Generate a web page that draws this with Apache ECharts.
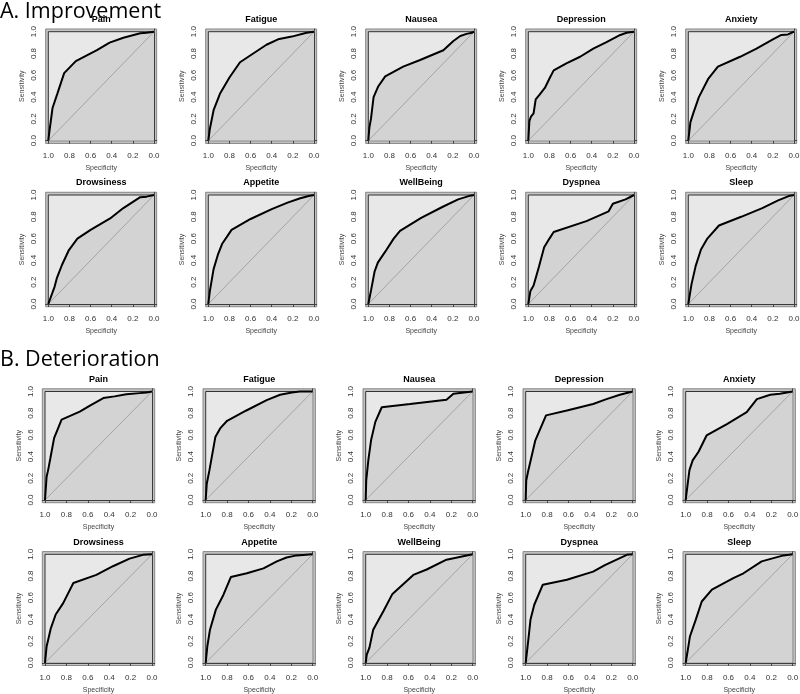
<!DOCTYPE html>
<html>
<head>
<meta charset="utf-8">
<script src="https://cdn.jsdelivr.net/npm/echarts@6/dist/echarts.min.js"></script>
<style>
  html, body { margin: 0; padding: 0; background: #fff; }
  #main { width: 800px; height: 694px; }
</style>
</head>
<body>
<div id="main"></div>
<script>
// symptom names, same order in both sections
var symptoms = ['Pain', 'Fatigue', 'Nausea', 'Depression', 'Anxiety',
  'Drowsiness', 'Appetite', 'WellBeing', 'Dyspnea', 'Sleep']
var sectionTitles = ['A. Improvement', 'B. Deterioration']
var tickValues = [0, 0.2, 0.4, 0.6, 0.8, 1]
var unitSquare = [1, 1, 0, 0]
var chanceLine = [[1, 0], [0, 1]]

// ROC curves: [specificity, sensitivity]
// A. Improvement
var impPain = [[1, 0], [0.99, 0.08], [0.96, 0.30], [0.915, 0.43], [0.85, 0.62], [0.74, 0.73], [0.54, 0.83], [0.42, 0.90], [0.29, 0.945], [0.13, 0.985], [0.07, 0.99], [0, 1]]
var impFatigue = [[1, 0], [0.985, 0.11], [0.95, 0.28], [0.89, 0.43], [0.80, 0.58], [0.70, 0.72], [0.575, 0.80], [0.45, 0.88], [0.34, 0.93], [0.21, 0.955], [0.07, 0.99], [0, 1]]
var impNausea = [[1, 0], [0.99, 0.12], [0.975, 0.20], [0.95, 0.40], [0.905, 0.50], [0.84, 0.59], [0.67, 0.68], [0.51, 0.74], [0.29, 0.83], [0.195, 0.915], [0.13, 0.96], [0.07, 0.98], [0.02, 0.99], [0, 1]]
var impDepression = [[1, 0], [0.99, 0.18], [0.975, 0.22], [0.95, 0.25], [0.93, 0.38], [0.895, 0.42], [0.84, 0.49], [0.795, 0.58], [0.76, 0.645], [0.64, 0.71], [0.51, 0.77], [0.385, 0.845], [0.26, 0.905], [0.13, 0.97], [0.07, 0.99], [0, 1]]
var impAnxiety = [[1, 0], [0.98, 0.17], [0.95, 0.26], [0.90, 0.40], [0.81, 0.57], [0.72, 0.68], [0.51, 0.77], [0.355, 0.845], [0.20, 0.93], [0.12, 0.97], [0.057, 0.975], [0, 1]]
var impDrowsiness = [[1, 0], [0.94, 0.16], [0.92, 0.235], [0.87, 0.36], [0.805, 0.495], [0.725, 0.60], [0.60, 0.68], [0.415, 0.785], [0.29, 0.88], [0.13, 0.98], [0.07, 0.985], [0, 1]]
var impAppetite = [[1, 0], [0.985, 0.12], [0.95, 0.32], [0.91, 0.45], [0.87, 0.55], [0.78, 0.68], [0.6, 0.78], [0.4, 0.87], [0.25, 0.93], [0.13, 0.97], [0.05, 0.99], [0, 1]]
var impWellBeing = [[1, 0], [0.975, 0.12], [0.94, 0.30], [0.91, 0.38], [0.84, 0.48], [0.76, 0.60], [0.70, 0.67], [0.5, 0.79], [0.3, 0.89], [0.15, 0.96], [0.05, 0.99], [0, 1]]
var impDyspnea = [[1, 0], [0.98, 0.12], [0.95, 0.17], [0.9, 0.34], [0.85, 0.52], [0.8, 0.6], [0.76, 0.66], [0.45, 0.76], [0.24, 0.85], [0.2, 0.92], [0.08, 0.96], [0, 1]]
var impSleep = [[1, 0], [0.97, 0.18], [0.93, 0.35], [0.88, 0.5], [0.82, 0.6], [0.71, 0.72], [0.5, 0.8], [0.3, 0.88], [0.15, 0.95], [0.05, 0.99], [0, 1]]

// B. Deterioration
var detPain = [[1, 0], [0.985, 0.215], [0.97, 0.28], [0.95, 0.385], [0.915, 0.57], [0.845, 0.74], [0.675, 0.815], [0.58, 0.87], [0.455, 0.94], [0.35, 0.955], [0.24, 0.975], [0.115, 0.985], [0.05, 0.99], [0, 1]]
var detFatigue = [[1, 0], [0.99, 0.15], [0.965, 0.275], [0.91, 0.58], [0.865, 0.66], [0.80, 0.73], [0.62, 0.825], [0.43, 0.92], [0.305, 0.97], [0.195, 0.99], [0.12, 1], [0, 1]]
var detNausea = [[1, 0], [0.995, 0.18], [0.975, 0.37], [0.95, 0.55], [0.91, 0.72], [0.85, 0.855], [0.585, 0.885], [0.245, 0.925], [0.18, 0.98], [0.165, 0.995], [0, 1]]
var detDepression = [[1, 0], [0.995, 0.18], [0.975, 0.275], [0.91, 0.55], [0.81, 0.78], [0.615, 0.825], [0.37, 0.885], [0.245, 0.93], [0.12, 0.97], [0, 1]]
var detAnxiety = [[1, 0], [0.985, 0.12], [0.965, 0.275], [0.935, 0.365], [0.88, 0.445], [0.805, 0.595], [0.615, 0.70], [0.43, 0.81], [0.335, 0.93], [0.21, 0.97], [0.12, 0.98], [0, 1]]
var detDrowsiness = [[1, 0], [0.985, 0.15], [0.945, 0.32], [0.90, 0.445], [0.83, 0.55], [0.735, 0.735], [0.52, 0.81], [0.365, 0.89], [0.21, 0.96], [0.085, 0.995], [0, 1]]
var detAppetite = [[1, 0], [0.985, 0.15], [0.96, 0.305], [0.905, 0.49], [0.835, 0.625], [0.765, 0.79], [0.615, 0.825], [0.46, 0.87], [0.335, 0.935], [0.245, 0.97], [0.15, 0.99], [0, 1]]
var detWellBeing = [[1, 0], [0.99, 0.075], [0.965, 0.14], [0.93, 0.305], [0.835, 0.475], [0.75, 0.635], [0.555, 0.81], [0.43, 0.86], [0.245, 0.95], [0, 1]]
var detDyspnea = [[1, 0], [0.975, 0.215], [0.955, 0.40], [0.92, 0.535], [0.84, 0.72], [0.615, 0.765], [0.37, 0.84], [0.26, 0.90], [0.12, 0.965], [0.055, 0.995], [0, 1]]
var detSleep = [[1, 0], [0.985, 0.09], [0.96, 0.245], [0.905, 0.40], [0.85, 0.565], [0.755, 0.675], [0.555, 0.78], [0.46, 0.825], [0.29, 0.935], [0.18, 0.965], [0.085, 0.99], [0, 1]]

var improvement = [impPain, impFatigue, impNausea, impDepression, impAnxiety,
  impDrowsiness, impAppetite, impWellBeing, impDyspnea, impSleep]
var deterioration = [detPain, detFatigue, detNausea, detDepression, detAnxiety,
  detDrowsiness, detAppetite, detWellBeing, detDyspnea, detSleep]
var sections = [improvement, deterioration]

// layout (pixel positions of the 0..1 square of each panel)
var layout = [
  { lefts: [48.3, 208.3, 368.3, 528.3, 688.3], w: 105.7, tops: [31.7, 195], h: 109, titleY: 23 },
  { lefts: [45, 205.7, 365.7, 525.7, 685.7], w: 107, tops: [391.5, 554.3], h: 108.5, titleY: 371 }
]
var PAD = 0.025

var chart = echarts.init(document.getElementById('main'))

var grids = []
var xAxes = []
var yAxes = []
var series = []
var graphics = []

function tickLabel (v) { return v.toFixed(1) }

sections.forEach(function (curves, s) {
  var L = layout[s]
  graphics.push({
    type: 'text', x: 0, y: L.titleY,
    style: { text: sectionTitles[s], font: '21.5px "Open Sans"', fill: '#000', textAlign: 'left', textVerticalAlign: 'bottom' }
  })
  curves.forEach(function (curve, i) {
    var row = Math.floor(i / 5)
    var col = i % 5
    var sqLeft = L.lefts[col]
    var sqTop = L.tops[row]
    var k = grids.length
    grids.push({
      left: sqLeft - PAD * L.w,
      top: sqTop - PAD * L.h,
      width: L.w * (1 + 2 * PAD),
      height: L.h * (1 + 2 * PAD),
      outerBoundsMode: 'none',
      containLabel: false,
      show: true,
      backgroundColor: '#c4c4c4',
      borderColor: '#888',
      borderWidth: 1
    })
    xAxes.push({
      type: 'value', gridIndex: k, min: -PAD, max: 1 + PAD, inverse: true, offset: 3,
      axisLine: { show: true, lineStyle: { color: '#444', width: 1 } },
      axisTick: { show: true, length: 3, customValues: tickValues, lineStyle: { color: '#444' } },
      axisLabel: { customValues: tickValues, formatter: tickLabel, fontSize: 8, color: '#333', margin: 5, fontFamily: 'Liberation Sans' },
      splitLine: { show: false },
      name: 'Specificity', nameLocation: 'middle', nameGap: 18,
      nameTextStyle: { fontSize: 7, color: '#444', fontFamily: 'Liberation Sans' }
    })
    yAxes.push({
      type: 'value', gridIndex: k, min: -PAD, max: 1 + PAD, offset: 3,
      axisLine: { show: true, lineStyle: { color: '#444', width: 1 } },
      axisTick: { show: true, length: 3, customValues: tickValues, lineStyle: { color: '#444' } },
      axisLabel: { customValues: tickValues, formatter: tickLabel, fontSize: 8, color: '#333', margin: 5, rotate: 90, fontFamily: 'Liberation Sans' },
      splitLine: { show: false },
      name: 'Sensitivity', nameLocation: 'middle', nameGap: 17,
      nameTextStyle: { fontSize: 7, color: '#444', fontFamily: 'Liberation Sans' }
    })
    // light square (0..1 box)
    series.push({
      type: 'custom', xAxisIndex: k, yAxisIndex: k, z: 1, silent: true,
      data: [unitSquare],
      encode: { x: [0, 2], y: [1, 3] },
      renderItem: function (params, api) {
        var p0 = api.coord([api.value(0), api.value(1)])
        var p1 = api.coord([api.value(2), api.value(3)])
        return {
          type: 'rect',
          shape: { x: Math.min(p0[0], p1[0]), y: Math.min(p0[1], p1[1]), width: Math.abs(p1[0] - p0[0]), height: Math.abs(p1[1] - p0[1]) },
          style: { fill: '#e8e8e8', stroke: '#333', lineWidth: 1 }
        }
      }
    })
    // area under the curve
    series.push({
      type: 'line', xAxisIndex: k, yAxisIndex: k, z: 2, silent: true,
      data: curve, symbol: 'none',
      lineStyle: { width: 0 },
      areaStyle: { color: '#d3d3d3', opacity: 1 }
    })
    // chance diagonal
    series.push({
      type: 'line', xAxisIndex: k, yAxisIndex: k, z: 3, silent: true,
      data: chanceLine, symbol: 'none',
      lineStyle: { color: '#a4a4a4', width: 1 }
    })
    // ROC curve
    series.push({
      type: 'line', xAxisIndex: k, yAxisIndex: k, z: 4, silent: true,
      data: curve, symbol: 'none',
      lineStyle: { color: '#000', width: 2 }
    })
    graphics.push({
      type: 'text', x: sqLeft + L.w / 2, y: sqTop - 12,
      style: { text: symptoms[i], font: 'bold 9px "Liberation Sans"', fill: '#000', textAlign: 'center', textVerticalAlign: 'middle' }
    })
  })
})

chart.setOption({
  animation: false,
  grid: grids,
  xAxis: xAxes,
  yAxis: yAxes,
  series: series,
  graphic: graphics
})
</script>
</body>
</html>
